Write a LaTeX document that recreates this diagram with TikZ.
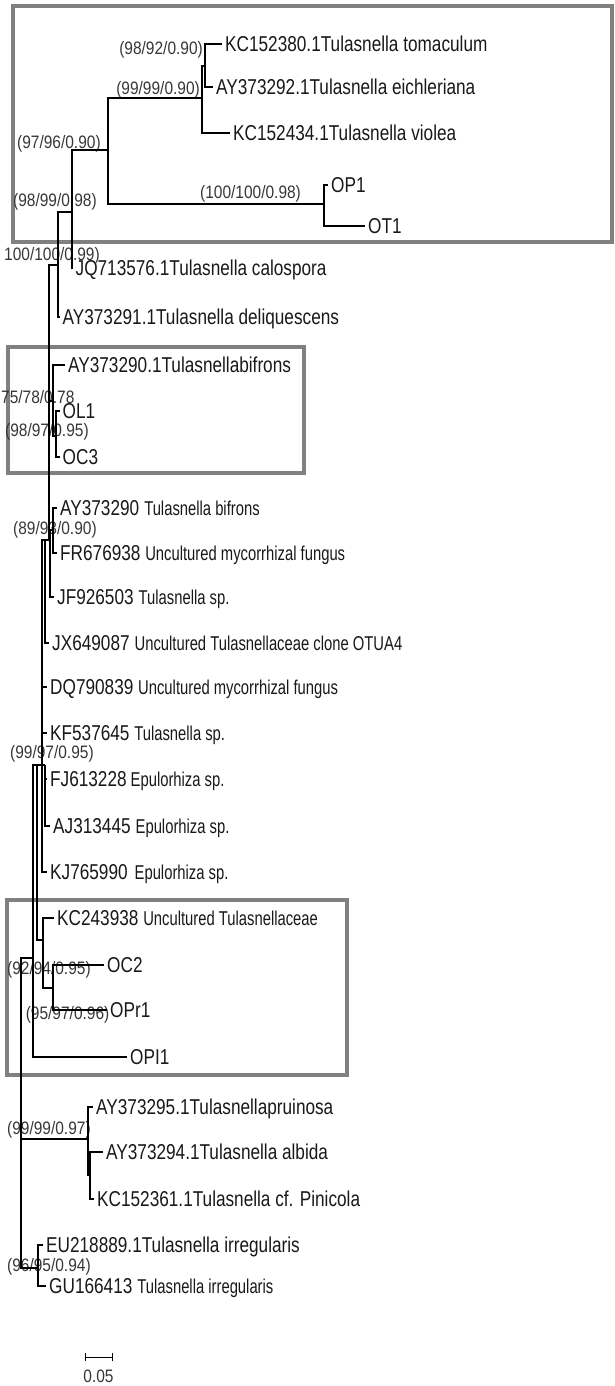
\documentclass[tikz,border=0pt]{standalone}
\usepackage{fontspec}
\setmainfont{Liberation Sans}[FakeStretch=0.80]
\newfontfamily\supfam{Liberation Sans}[FakeStretch=0.86]
\newfontfamily\descfam{Liberation Sans}[FakeStretch=0.74]
\newcommand{\leaffont}{\fontsize{21.5}{23}\selectfont}
\newcommand{\descfont}{\descfam\fontsize{20}{22}\selectfont}
\newcommand{\supfont}{\supfam\fontsize{18}{20}\selectfont}
\definecolor{boxgray}{RGB}{128,128,128}
\definecolor{leafc}{RGB}{25,25,25}
\definecolor{supc}{RGB}{55,55,55}
\begin{document}
\begin{tikzpicture}[x=1pt,y=-1pt,
  br/.style={draw=black,line width=1.3pt},
  trunk/.style={draw=black,line width=2.2pt},
  frame/.style={draw=boxgray,line width=4pt},
  leaf/.style={anchor=west,inner xsep=3pt,inner ysep=0pt,text height=15.4pt,text depth=0pt,font=\leaffont,text=leafc},
  sup/.style={anchor=west,inner sep=0pt,text height=12.9pt,text depth=0pt,font=\supfont,text=supc}]
\useasboundingbox (0,0) rectangle (615,1386);
\fill[white] (0,0) rectangle (615,1386);
% highlight frames
\draw[frame] (13,6) rectangle (612,242);
\draw[frame] (8,347) rectangle (304,473);
\draw[frame] (7,900) rectangle (347,1075);
% leaves
\node[leaf] (t1) at (222,44) {KC152380.1Tulasnella tomaculum};
\node[leaf] (t2) at (213,87) {AY373292.1Tulasnella eichleriana};
\node[leaf] (t3) at (230,133) {KC152434.1Tulasnella violea};
\node[leaf] (t4) at (328,185) {OP1};
\node[leaf] (t5) at (365,226) {OT1};
\node[leaf] (t6) at (72.5,268) {JQ713576.1Tulasnella calospora};
\node[leaf] (t7) at (59.5,317) {AY373291.1Tulasnella deliquescens};
\node[leaf] (t8) at (65,365) {AY373290.1Tulasnellabifrons};
\node[leaf] (t9) at (59.5,411) {OL1};
\node[leaf] (t10) at (59.5,457) {OC3};
\node[leaf] (t11) at (57,508) {AY373290\hspace{5pt}{\descfont Tulasnella bifrons}};
\node[leaf] (t12) at (57,553) {FR676938 {\descfont Uncultured mycorrhizal fungus}};
\node[leaf] (t13) at (54,597) {JF926503\hspace{5pt}{\descfont Tulasnella sp.}};
\node[leaf] (t14) at (49,643) {JX649087\hspace{5pt}{\descfont Uncultured Tulasnellaceae clone OTUA4}};
\node[leaf] (t15) at (47,687) {DQ790839 {\descfont Uncultured mycorrhizal fungus}};
\node[leaf] (t16) at (47,733) {KF537645 {\descfont Tulasnella sp.}};
\node[leaf] (t17) at (47,779) {FJ613228\hspace{4pt}{\descfont Epulorhiza sp.}};
\node[leaf] (t18) at (50,826) {AJ313445\hspace{5pt}{\descfont Epulorhiza sp.}};
\node[leaf] (t19) at (47,872) {KJ765990\hspace{7pt}{\descfont Epulorhiza sp.}};
\node[leaf] (t20) at (54,918) {KC243938 {\descfont Uncultured Tulasnellaceae}};
\node[leaf] (t21) at (104,965) {OC2};
\node[leaf] (t22) at (107,1010) {OPr1};
\node[leaf] (t23) at (127,1057) {OPI1};
\node[leaf] (t24) at (93,1107) {AY373295.1Tulasnellapruinosa};
\node[leaf] (t25) at (103,1152) {AY373294.1Tulasnella albida};
\node[leaf] (t26) at (94,1199) {KC152361.1Tulasnella cf. Pinicola};
\node[leaf] (t27) at (43,1245) {EU218889.1Tulasnella irregularis};
\node[leaf] (t28) at (46,1286) {GU166413\hspace{5pt}{\descfont Tulasnella irregularis}};
% support values
\node[sup,anchor=east] (sA) at (203,48) {(98/92/0.90)};
\node[sup,anchor=east] (sB) at (200,88) {(99/99/0.90)};
\node[sup] (sC) at (17,142) {(97/96/0.90)};
\node[sup] (sD) at (200,192) {(100/100/0.98)};
\node[sup] (sE) at (13,200) {(98/99/0.98)};
\node[sup] (sF) at (4,254) {100/100/0.99)};
\node[sup] (sH) at (1,397) {75/78/0.78};
\node[sup] (sI) at (5,430) {(98/97/0.95)};
\node[sup] (sJ) at (13,528) {(89/93/0.90)};
\node[sup] (sO) at (10,752) {(99/97/0.95)};
\node[sup] (sQ) at (7,968) {(92/94/0.95)};
\node[sup,anchor=east] (sY) at (109.5,1013) {(95/97/0.96)};
\node[sup] (sS) at (7,1128) {(99/99/0.97)};
\node[sup] (sT) at (7,1265) {(96/95/0.94)};
% internal nodes
\coordinate (A) at (205,66);
\coordinate (B) at (202,98);
\coordinate (C) at (108,150);
\coordinate (D) at (324,204);
\coordinate (E) at (72,212);
\coordinate (F) at (58,265);
\coordinate (G) at (49,400);
\coordinate (H) at (53,401);
\coordinate (I) at (56,436);
\coordinate (J) at (50,540);
\coordinate (K) at (53,530);
\coordinate (P) at (43,540);
\coordinate (X) at (45,540);
\coordinate (U) at (42,765);
\coordinate (V) at (45,765);
\coordinate (O) at (37,765);
\coordinate (Q) at (43,940);
\coordinate (Y) at (53,988);
\coordinate (M) at (33,958);
\coordinate (R) at (21,1139);
\coordinate (S) at (88,1139);
\coordinate (Z) at (90,1175);
\coordinate (T) at (38,1268);
% branches
\draw[br] (A) |- (t1.west);
\draw[br] (A) |- (t2.west);
\draw[br] (B) |- (A);
\draw[br] (B) |- (t3.west);
\draw[br] (C) |- (B);
\draw[br] (C) |- (D);
\draw[br] (D) |- (t4.west);
\draw[br] (D) |- (t5.west);
\draw[br] (E) |- (C);
\draw[br] (E) |- (t6.west);
\draw[br] (F) |- (E);
\draw[br] (F) |- (t7.west);
\draw[br] (G) |- (F);
\draw[br] (G) |- (H);
\draw[br] (G) |- (J);
\draw[br] (H) |- (t8.west);
\draw[br] (H) |- (I);
\draw[trunk] (I) |- (t9.west);
\draw[trunk] (I) |- (t10.west);
\draw[br] (J) |- (K);
\draw[br] (K) |- (t11.west);
\draw[br] (K) |- (t12.west);
\draw[br] (J) |- (t13.west);
\draw[br] (P) -- (J);
\draw[br] (X) |- (t14.west);
\draw[trunk] (U) |- (P);
\draw[br] (U) |- (t15.west);
\draw[br] (U) |- (t16.west);
\draw[br] (U) |- (t19.west);
\draw[br] (U) -- (V);
\draw[br] (V) |- (t17.west);
\draw[br] (V) |- (t18.west);
\draw[br] (O) -- (U);
\draw[br] (O) |- (Q);
\draw[br] (Q) |- (t20.west);
\draw[br] (Q) |- (Y);
\draw[br] (Y) |- (t21.west);
\draw[br] (Y) |- (t22.west);
\draw[br] (M) |- (O);
\draw[br] (M) |- (t23.west);
\draw[br] (R) |- (M);
\draw[br] (R) |- (S);
\draw[br] (R) |- (T);
\draw[br] (S) |- (t24.west);
\draw[br] (S) |- (Z);
\draw[br] (Z) |- (t25.west);
\draw[br] (Z) |- (t26.west);
\draw[br] (T) |- (t27.west);
\draw[br] (T) |- (t28.west);
% scale bar
\coordinate (sb1) at (85,1357);
\coordinate (sb2) at (112,1357);
\draw[br,line width=1pt] (sb1) -- (sb2);
\draw[br,line width=1pt] ([yshift=-4pt]sb1) -- ([yshift=4pt]sb1);
\draw[br,line width=1pt] ([yshift=-4pt]sb2) -- ([yshift=4pt]sb2);
\node[sup,anchor=center] (sbl) at (98.5,1376) {0.05};
\end{tikzpicture}
\end{document}
